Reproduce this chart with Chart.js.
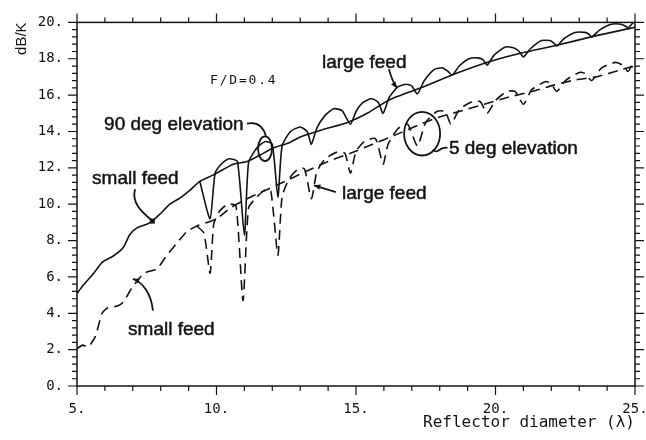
<!DOCTYPE html>
<html>
<head>
<meta charset="utf-8">
<script src="https://cdn.jsdelivr.net/npm/chart.js@4.4.0/dist/chart.umd.min.js"></script>
<style>
  html, body { margin: 0; background: #fff; }
</style>
</head>
<body>
<canvas id="gt" width="646" height="440"></canvas>
<script>
// G/T versus reflector diameter, F/D = 0.4

// 90 deg elevation, small feed (solid)
const diam90Small = [5, 5.2, 5.6, 5.9, 6.3, 6.65, 6.9, 7.15, 7.5, 7.7, 7.97, 8.33, 8.7, 9.0, 9.4, 9.87, 10.6, 11.1, 11.56, 11.99, 12.63, 13.0, 13.8, 14.7, 15.4, 16.2, 17.4, 18.6, 19.8, 20.9, 22.2, 23.5, 24.9, 25];
const gt90Small   = [5.08, 5.5, 6.2, 6.8, 7.15, 7.6, 8.35, 8.7, 8.9, 9.07, 9.45, 10.0, 10.35, 10.7, 11.26, 11.6, 12.2, 12.35, 12.7, 13.06, 13.4, 13.7, 14.1, 14.5, 15.0, 15.75, 16.45, 17.2, 17.85, 18.3, 18.74, 19.23, 19.7, 19.75];

// 90 deg elevation, large feed (solid)
const diam90Large = [9.4, 9.77, 9.95, 10.2, 10.45, 10.75, 11.0, 11.15, 11.45, 11.75, 12.0, 12.2, 12.35, 12.65, 13.0, 13.25, 13.4, 13.6, 13.9, 14.2, 14.5, 14.8, 15.0, 15.25, 15.55, 15.8, 15.97, 16.2, 16.5, 16.8, 17.0, 17.2, 17.45, 17.8, 18.1, 18.3, 18.45, 18.7, 19.05, 19.35, 19.55, 19.7, 19.95, 20.35, 20.65, 20.85, 21.0, 21.25, 21.65, 21.95, 22.1, 22.2, 22.45, 22.85, 23.2, 23.35, 23.45, 23.75, 24.15, 24.5, 24.65, 24.75, 25];
const gt90Large   = [11.26, 9.2, 11.7, 12.25, 12.5, 12.35, 8.3, 12.3, 13.1, 13.45, 13.3, 10.4, 13.2, 14.0, 14.25, 14.0, 13.3, 14.2, 14.9, 15.25, 15.15, 14.4, 15.1, 15.6, 15.8, 15.6, 15.0, 15.9, 16.45, 16.6, 16.5, 16.07, 16.8, 17.4, 17.5, 17.3, 17.1, 17.6, 18.0, 18.05, 17.95, 17.65, 18.2, 18.65, 18.6, 18.4, 18.1, 18.55, 19.0, 19.0, 18.85, 18.7, 19.1, 19.45, 19.45, 19.35, 19.2, 19.6, 19.9, 19.9, 19.8, 19.7, 20.1];

// 5 deg elevation, small feed (dashed)
const diam5Small = [5.0, 5.2, 5.4, 5.65, 5.9, 6.1, 6.45, 6.65, 6.97, 7.4, 7.87, 8.2, 8.6, 8.94, 9.3, 10.0, 10.5, 11.1, 11.8, 12.45, 13.2, 14.0, 14.8, 15.6, 16.4, 17.3, 18.0, 18.7, 19.6, 20.5, 21.3, 22.1, 22.9, 23.6, 24.5, 25];
const gt5Small   = [2.05, 2.25, 2.15, 2.7, 4.0, 4.3, 4.4, 4.6, 5.4, 6.2, 6.45, 7.15, 7.9, 8.5, 8.8, 9.2, 9.8, 10.3, 10.8, 11.25, 11.8, 12.35, 12.8, 13.3, 13.8, 14.4, 14.8, 15.1, 15.5, 15.9, 16.2, 16.55, 16.85, 17.0, 17.4, 17.6];

// 5 deg elevation, large feed (dashed)
const diam5Large = [9.3, 9.55, 9.77, 9.9, 10.1, 10.4, 10.7, 10.95, 11.15, 11.45, 11.75, 11.95, 12.2, 12.35, 12.6, 12.9, 13.15, 13.4, 13.6, 13.9, 14.3, 14.6, 14.8, 15.0, 15.3, 15.7, 15.97, 16.15, 16.5, 16.85, 17.2, 17.5, 17.9, 18.2, 18.4, 18.7, 19.1, 19.45, 19.7, 20.0, 20.4, 20.7, 21.0, 21.3, 21.8, 22.0, 22.2, 22.5, 23.0, 23.2, 23.45, 23.8, 24.3, 24.55, 24.75, 24.9];
const gt5Large   = [8.8, 8.4, 6.2, 8.9, 9.6, 10.0, 9.9, 4.7, 9.8, 10.4, 10.8, 10.7, 7.2, 10.4, 11.4, 11.9, 11.95, 10.3, 11.8, 12.5, 12.85, 12.8, 11.7, 12.9, 13.45, 13.6, 12.2, 13.3, 14.15, 14.4, 13.2, 14.5, 15.1, 15.1, 14.4, 15.2, 15.6, 15.65, 15.0, 15.7, 16.2, 16.2, 15.5, 16.3, 16.75, 16.6, 16.2, 16.8, 17.25, 17.2, 16.8, 17.5, 17.8, 17.65, 17.3, 17.7];

const xTicks = [5, 10, 15, 20, 25];
const yTicks = [0, 2, 4, 6, 8, 10, 12, 14, 16, 18, 20];

const ink = '#141414';
const monoFont = 'DejaVu Sans Mono';
const textFont = 'Liberation Sans';

function toPoints(xs, ys) {
  return xs.map((x, i) => ({ x: x, y: ys[i] }));
}

function lineSet(label, xs, ys, dashed) {
  return {
    label: label,
    data: toPoints(xs, ys),
    borderColor: ink,
    borderWidth: 1.6,
    borderDash: dashed ? [10, 6] : [],
    pointRadius: 0,
    tension: 0.2,
    fill: false
  };
}

// frame with outward ticks on all four sides
const frame = {
  id: 'frame',
  afterDatasetsDraw(chart) {
    const { ctx, chartArea: a, scales: { x, y } } = chart;
    ctx.save();
    ctx.strokeStyle = ink;
    ctx.lineWidth = 1.5;
    ctx.strokeRect(a.left, a.top, a.right - a.left, a.bottom - a.top);
    ctx.lineWidth = 1.2;
    ctx.beginPath();
    for (let v = 5; v <= 25; v++) {
      const px = x.getPixelForValue(v);
      const len = v % 5 === 0 ? 9 : 5;
      ctx.moveTo(px, a.bottom); ctx.lineTo(px, a.bottom + len);
      ctx.moveTo(px, a.top); ctx.lineTo(px, a.top - len);
    }
    for (let i = 0; i <= 50; i++) {
      const py = y.getPixelForValue(i * 0.4);
      const len = i % 5 === 0 ? 9 : 5;
      ctx.moveTo(a.left, py); ctx.lineTo(a.left - len, py);
      ctx.moveTo(a.right, py); ctx.lineTo(a.right + len, py);
    }
    ctx.stroke();
    ctx.restore();
  }
};

// labels, leader lines and circles
const notes = {
  id: 'notes',
  afterDatasetsDraw(chart) {
    const { ctx, scales: { x, y } } = chart;
    const P = (d, g) => [x.getPixelForValue(d), y.getPixelForValue(g)];
    ctx.save();
    ctx.fillStyle = ink;
    ctx.strokeStyle = ink;
    ctx.textBaseline = 'middle';
    ctx.textAlign = 'left';

    ctx.font = '19px ' + textFont;
    ctx.lineWidth = 0.5;
    [['large feed', 13.78, 17.76],
     ['90 deg elevation', 5.97, 14.37],
     ['small feed', 5.54, 11.42],
     ['large feed', 14.5, 10.6],
     ['5 deg elevation', 18.33, 13.06],
     ['small feed', 6.83, 3.11]].forEach(([t, d, g]) => {
      const [px, py] = P(d, g);
      ctx.fillText(t, px, py);
      ctx.strokeText(t, px, py);
    });

    ctx.font = '13px ' + monoFont;
    ctx.letterSpacing = '1.8px';
    const [fx, fy] = P(9.77, 16.8);
    ctx.fillText('F/D=0.4', fx, fy);
    ctx.letterSpacing = '0px';

    const curve = (pts, head) => {
      const p = pts.map(([d, g]) => P(d, g));
      ctx.beginPath();
      ctx.moveTo(p[0][0], p[0][1]);
      if (p.length === 2) ctx.lineTo(p[1][0], p[1][1]);
      else if (p.length === 3) ctx.quadraticCurveTo(p[1][0], p[1][1], p[2][0], p[2][1]);
      else ctx.bezierCurveTo(p[1][0], p[1][1], p[2][0], p[2][1], p[3][0], p[3][1]);
      ctx.stroke();
      if (head) {
        const [ex, ey] = p[p.length - 1];
        const [sx, sy] = p[p.length - 2];
        const ang = Math.atan2(ey - sy, ex - sx);
        ctx.beginPath();
        ctx.moveTo(ex, ey);
        ctx.lineTo(ex - 7 * Math.cos(ang - 0.4), ey - 7 * Math.sin(ang - 0.4));
        ctx.lineTo(ex - 7 * Math.cos(ang + 0.4), ey - 7 * Math.sin(ang + 0.4));
        ctx.closePath();
        ctx.fill();
      }
    };

    ctx.lineWidth = 1.8;
    curve([[16.18, 17.43], [16.3, 16.75], [16.47, 16.39]], true);
    curve([[11.09, 14.43], [11.6, 14.6], [11.77, 13.77]], false);
    curve([[7.08, 10.82], [6.95, 10.1], [7.3, 9.6], [7.69, 9.1]], false);
    curve([[14.28, 10.66], [13.49, 11.04]], true);
    curve([[7.72, 4.15], [7.66, 5.1], [7.35, 5.7], [7.0, 5.9]], true);
    curve([[17.75, 13.0], [17.95, 12.7], [18.0, 13.2], [18.28, 13.1]], false);

    // dot where the small feed leader meets the curve
    const [dx, dy] = P(7.7, 9.07);
    ctx.fillRect(dx - 2.5, dy - 2.5, 5, 5);

    // ellipses around the two elevation groups
    const ring = (d, g, rd, rg) => {
      const [cx, cy] = P(d, g);
      const rx = Math.abs(x.getPixelForValue(d + rd) - cx);
      const ry = Math.abs(y.getPixelForValue(g + rg) - cy);
      ctx.beginPath();
      ctx.ellipse(cx, cy, rx, ry, 0, 0, Math.PI * 2);
      ctx.stroke();
    };
    ring(11.74, 13.05, 0.25, 0.68);
    ring(17.37, 13.88, 0.645, 1.2);

    ctx.restore();
  }
};

new Chart(document.getElementById('gt'), {
  type: 'line',
  data: {
    datasets: [
      lineSet('90 deg, small feed', diam90Small, gt90Small, false),
      lineSet('90 deg, large feed', diam90Large, gt90Large, false),
      lineSet('5 deg, small feed', diam5Small, gt5Small, true),
      lineSet('5 deg, large feed', diam5Large, gt5Large, true)
    ]
  },
  options: {
    responsive: false,
    animation: false,
    devicePixelRatio: 1,
    layout: { padding: { top: 20, right: 11, left: 0, bottom: 0 } },
    plugins: {
      legend: { display: false },
      tooltip: { enabled: false }
    },
    scales: {
      x: {
        type: 'linear',
        min: 5,
        max: 25,
        afterFit(s) { s.height = 54; s.paddingLeft = 0; s.paddingRight = 0; },
        afterBuildTicks(s) { s.ticks = xTicks.map(v => ({ value: v })); },
        grid: { display: false, drawTicks: false },
        border: { display: false },
        ticks: {
          padding: 15,
          autoSkip: false,
          maxRotation: 0,
          color: ink,
          font: { family: monoFont, size: 14 },
          callback: v => v + '.'
        },
        title: {
          display: true,
          text: 'Reflector diameter (λ)',
          align: 'end',
          color: ink,
          padding: { bottom: 8 },
          font: { family: monoFont, size: 16 }
        }
      },
      y: {
        type: 'linear',
        min: 0,
        max: 20,
        afterFit(s) { s.width = 77; },
        afterBuildTicks(s) { s.ticks = yTicks.map(v => ({ value: v })); },
        grid: { display: false, drawTicks: false },
        border: { display: false },
        ticks: {
          padding: 14,
          color: ink,
          font: { family: monoFont, size: 14 },
          callback: v => v + '.'
        },
        title: {
          display: true,
          text: 'dB/K',
          align: 'end',
          color: ink,
          padding: { top: 13 },
          font: { family: textFont, size: 15 }
        }
      }
    }
  },
  plugins: [frame, notes]
});
</script>
</body>
</html>
